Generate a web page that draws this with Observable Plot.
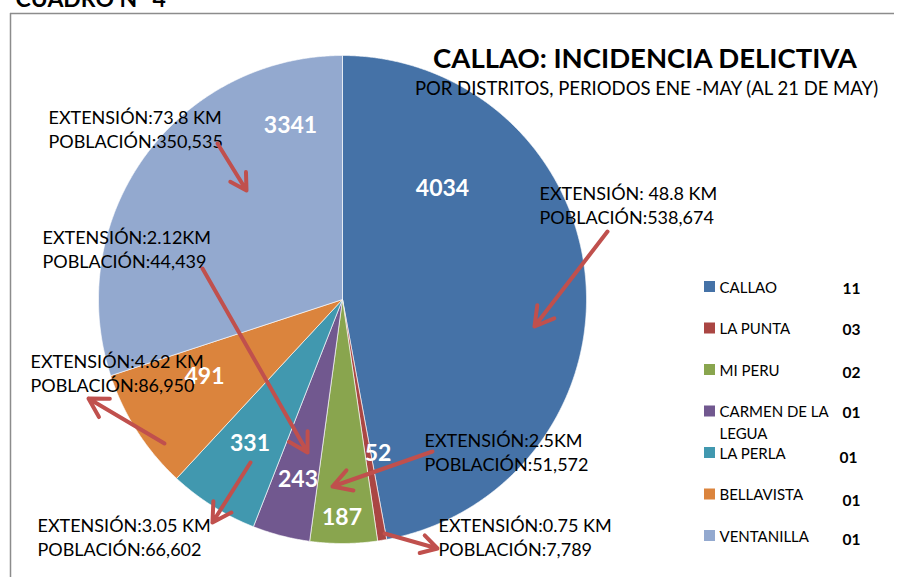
<!DOCTYPE html>
<html><head><meta charset="utf-8">
<script src="https://cdn.jsdelivr.net/npm/d3@7"></script>
<script src="https://cdn.jsdelivr.net/npm/@observablehq/plot@0.6"></script>
<style>
body{margin:0;background:#fff;}
#chart svg{display:block;}
</style>
</head><body><div id="chart"></div>
<script>
// ---- data ----
const districts = ["CALLAO","LA PUNTA","MI PERU","CARMEN DE LA LEGUA","LA PERLA","BELLAVISTA","VENTANILLA"];
const incidents = [4034, 52, 187, 243, 331, 491, 3341];
// slice sizes as drawn in the picture (% of the circle)
const sliceShare = [47.1, 0.6, 4.45, 3.8, 5.95, 8.05, 30.05];
const colors = ["#4572A7","#AA4643","#89A54E","#71588F","#4198AF","#DB843D","#93A9CF"];
const legendLabels = ["CALLAO","LA PUNTA","MI PERU","CARMEN DE LA\nLEGUA","LA PERLA","BELLAVISTA","VENTANILLA"];
const legendNumbers = ["11","03","02","01","01","01","01"];
const extension = ["EXTENSIÓN: 48.8 KM","EXTENSIÓN:0.75 KM","EXTENSIÓN:2.5KM","EXTENSIÓN:2.12KM","EXTENSIÓN:3.05 KM","EXTENSIÓN:4.62 KM","EXTENSIÓN:73.8 KM"];
const population = ["POBLACIÓN:538,674","POBLACIÓN:7,789","POBLACIÓN:51,572","POBLACIÓN:44,439","POBLACIÓN:66,602","POBLACIÓN:86,950","POBLACIÓN:350,535"];
const title = "CALLAO: INCIDENCIA DELICTIVA";
const subtitle = "POR DISTRITOS, PERIODOS ENE -MAY (AL 21 DE MAY)";
const sheetTitle = "CUADRO N° 4";

// ---- layout ----
const W = 898, H = 577;
const cx = 342, cy = 299, R = 244;
const valuePos = [[442,188],[377.5,453.5],[341.5,517],[297.5,479],[249.5,443],[204,376],[290,125.5]];
const notePos = [[539,182],[438,514],[424,429],[42,226],[37,514],[30,350],[48,106]];
const arrowPos = [[607,231,534,326],[384,533,437,548],[432,451,332,486],[202,268,307,452],[250,462,212,522],[164,443,88,398],[217,143,246,190]];
const legendTop = 286.5, legendStep = 41.5;
const legendNumDy = [1.5,0.5,2.5,0.5,4.5,5.5,3.5];
const legendNumX = [842,842,842,842,839,842,842];

// slices via d3.pie
const arcs = d3.pie().sort(null).value(d => d)(sliceShare);
const slicePts = [];
arcs.forEach((a, i) => {
  slicePts.push({name: districts[i], x: cx, y: cy});
  const n = Math.max(2, Math.ceil((a.endAngle - a.startAngle) / 0.004));
  for (let k = 0; k <= n; k++) {
    const t = a.startAngle + (a.endAngle - a.startAngle) * k / n;
    slicePts.push({name: districts[i], x: cx + R * Math.sin(t), y: cy - R * Math.cos(t)});
  }
  slicePts.push({name: districts[i], x: cx, y: cy});
});

const valueData = districts.map((d, i) => ({name: d, v: incidents[i], x: valuePos[i][0], y: valuePos[i][1]}));
const noteData = districts.map((d, i) => ({text: extension[i] + "\n" + population[i], x: notePos[i][0], y: notePos[i][1]}));
const arrowData = districts.map((d, i) => ({x1: arrowPos[i][0], y1: arrowPos[i][1], x2: arrowPos[i][2], y2: arrowPos[i][3]}));
const legendData = districts.map((d, i) => ({name: d, label: legendLabels[i], num: legendNumbers[i], row: legendTop + legendStep * i, i}));

const chart = Plot.plot({
  width: W, height: H, margin: 0,
  x: {domain: [0, W], range: [0, W], axis: null},
  y: {domain: [0, H], range: [0, H], axis: null},
  color: {domain: districts, range: colors, legend: false},
  style: {fontFamily: "Lato, 'Open Sans', sans-serif", background: "white", overflow: "visible"},
  marks: [
    Plot.line(slicePts, {x: "x", y: "y", z: "name", fill: "name", stroke: "white", strokeWidth: 0.8, strokeOpacity: 0.8}),
    // frame
    Plot.ruleY([13], {x1: 10, x2: 894, stroke: "#8c8c8c", strokeWidth: 1.5}),
    Plot.ruleX([10], {y1: 13, y2: H, stroke: "#8c8c8c", strokeWidth: 1.5}),
    // titles
    Plot.text([sheetTitle], {x: 15, y: -10, text: d => d, textAnchor: "start", lineAnchor: "top", fontSize: 23, fontWeight: "bold", fill: "black"}),
    Plot.text([title], {x: 644.5, y: 48, text: d => d, textAnchor: "middle", lineAnchor: "top", fontSize: 27.5, fontWeight: "bold", fill: "black"}),
    Plot.text([subtitle], {x: 646, y: 81, text: d => d, textAnchor: "middle", lineAnchor: "top", fontSize: 18.5, fill: "black"}),
    // value labels
    Plot.text(valueData, {x: "x", y: "y", text: d => String(d.v), fontSize: 23, fontWeight: "bold", fill: "white", lineAnchor: "middle"}),
    // notes
    Plot.text(noteData, {x: "x", y: "y", text: "text", textAnchor: "start", lineAnchor: "top", fontSize: 18, lineHeight: 1.36, fill: "black"}),
    // arrows
    Plot.arrow(arrowData, {x1: "x1", y1: "y1", x2: "x2", y2: "y2", stroke: "#C0504D", strokeWidth: 4, headAngle: 60, headLength: 8}),
    // legend
    Plot.rect(legendData, {x1: 704, x2: 715, y1: d => d.row - 5.5, y2: d => d.row + 5.5, fill: "name"}),
    Plot.text(legendData, {x: 719, y: d => d.row - 9.5, text: "label", textAnchor: "start", lineAnchor: "top", fontSize: 15, lineHeight: 1.45, fill: "black"}),
    Plot.text(legendData, {x: d => legendNumX[d.i], y: d => d.row - 5.5 + legendNumDy[d.i], text: "num", textAnchor: "start", lineAnchor: "top", fontSize: 15.5, fontWeight: "bold", fill: "black"})
  ]
});
document.getElementById("chart").appendChild(chart);
</script>
</body></html>
